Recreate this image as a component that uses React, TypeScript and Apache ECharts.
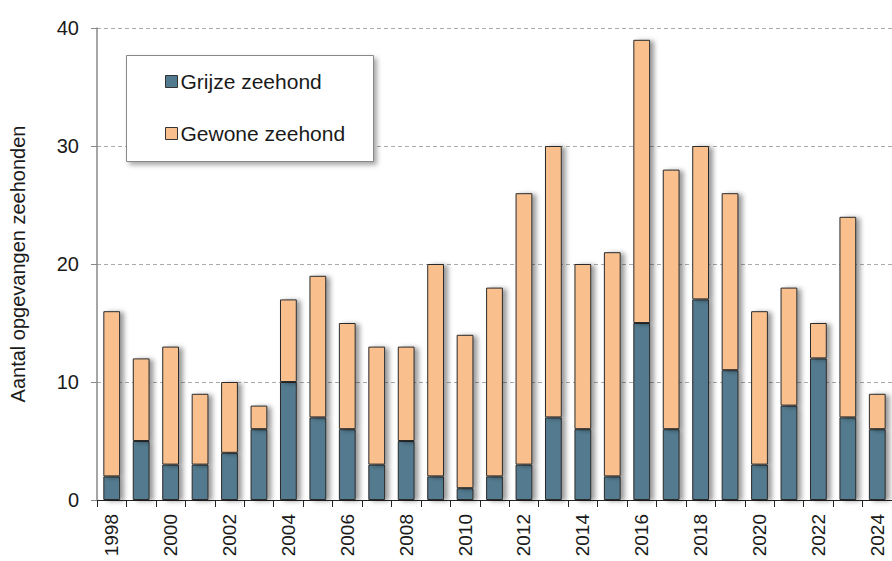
import React, { useEffect, useRef } from "react";
import * as echarts from "echarts";

const years = ["1998","1999","2000","2001","2002","2003","2004","2005","2006","2007","2008","2009","2010","2011","2012","2013","2014","2015","2016","2017","2018","2019","2020","2021","2022","2023","2024"];
const grijze = [2,5,3,3,4,6,10,7,6,3,5,2,1,2,3,7,6,2,15,6,17,11,3,8,12,7,6];
const gewone = [14,7,10,6,6,2,7,12,9,10,8,18,13,16,23,23,14,19,24,22,13,15,13,10,3,17,3];
const yTicks = { min: 0, max: 40, interval: 10 };

const FONT = "Liberation Sans, Arial, sans-serif";

export default function App() {
  const ref = useRef<HTMLDivElement>(null);
  useEffect(() => {
    document.body.style.margin = "0";
    const chart = echarts.init(ref.current!, null, { renderer: "svg" });
    const barStyle = (color: string) => ({
      color,
      borderColor: "#2b2b2b",
      borderWidth: 1,
      shadowColor: "rgba(0,0,0,0.4)",
      shadowBlur: 5,
      shadowOffsetX: 4,
      shadowOffsetY: 1,
    });
    chart.setOption({
      animation: false,
      textStyle: { fontFamily: FONT },
      grid: { left: 95, top: 28, bottom: 61, right: -8, containLabel: false },
      graphic: [
        {
          type: "rect",
          left: 126,
          top: 55,
          shape: { width: 247, height: 106 },
          style: {
            fill: "#fff",
            stroke: "#888",
            lineWidth: 1,
            shadowColor: "rgba(0,0,0,0.35)",
            shadowBlur: 5,
            shadowOffsetX: 3,
            shadowOffsetY: 3,
          },
          z: 10,
        },
      ],
      legend: {
        orient: "vertical",
        left: 160,
        top: 66,
        itemGap: 31,
        itemWidth: 12,
        itemHeight: 12,
        icon: "rect",
        z: 20,
        textStyle: { fontSize: 21, color: "#1a1a1a", fontFamily: FONT, padding: [0, 0, 0, -2] },
        data: [
          { name: "Grijze zeehond", itemStyle: { borderColor: "#333", borderWidth: 1, shadowBlur: 0, shadowOffsetX: 0, shadowOffsetY: 0 } },
          { name: "Gewone zeehond", itemStyle: { borderColor: "#333", borderWidth: 1, shadowBlur: 0, shadowOffsetX: 0, shadowOffsetY: 0 } },
        ],
      },
      xAxis: {
        type: "category",
        data: years,
        axisLine: { lineStyle: { color: "#222", width: 1 } },
        axisTick: { show: true, interval: 0, length: 7, lineStyle: { color: "#222" } },
        axisLabel: {
          rotate: 90,
          interval: 1,
          fontSize: 19,
          color: "#1a1a1a",
          margin: 14,
          fontFamily: FONT,
        },
      },
      yAxis: {
        type: "value",
        ...yTicks,
        name: "Aantal opgevangen zeehonden",
        nameLocation: "middle",
        nameGap: 69,
        nameTextStyle: { fontSize: 20, color: "#1a1a1a", fontFamily: FONT },
        axisLine: { show: true, lineStyle: { color: "#888", width: 1.5 } },
        axisTick: { show: true, length: 6, lineStyle: { color: "#888" } },
        axisLabel: { fontSize: 20, color: "#1a1a1a", margin: 18, fontFamily: FONT },
        splitLine: { show: true, lineStyle: { type: [4, 3], color: "#aaa", width: 1 } },
      },
      series: [
        {
          name: "Grijze zeehond",
          type: "bar",
          stack: "total",
          data: grijze,
          barWidth: "57%",
          itemStyle: barStyle("#527a8e"),
        },
        {
          name: "Gewone zeehond",
          type: "bar",
          stack: "total",
          data: gewone,
          barWidth: "57%",
          itemStyle: barStyle("#f9c08e"),
        },
      ],
    });
    return () => chart.dispose();
  }, []);
  return <div ref={ref} style={{ width: 892, height: 561 }} />;
}
